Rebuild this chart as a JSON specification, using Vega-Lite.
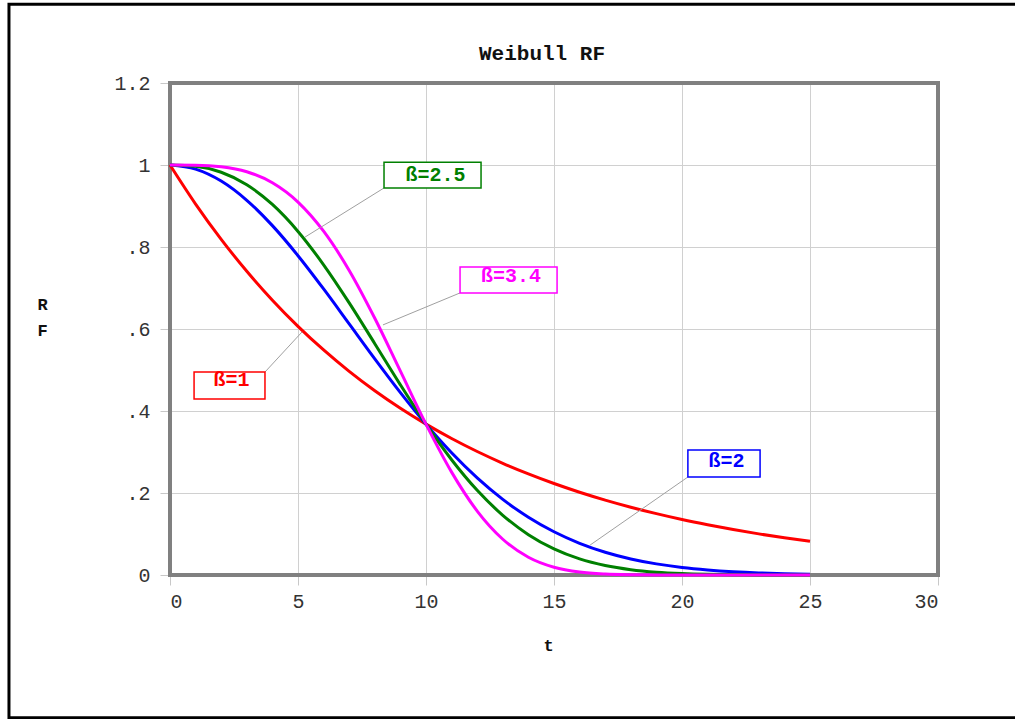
{
  "$schema": "https://vega.github.io/schema/vega-lite/v6.json",
  "autosize": {"type": "none"},
  "padding": {"left": 170, "top": 83, "right": 77, "bottom": 144},
  "width": 768,
  "height": 492,
  "background": "white",
  "config": {
    "view": {"stroke": null},
    "font": "Liberation Mono"
  },
  "title": {
    "text": "Weibull RF",
    "frame": "group",
    "anchor": "middle",
    "baseline": "alphabetic",
    "offset": 0,
    "dy": 78,
    "dx": -12,
    "font": "Liberation Mono",
    "fontSize": 21,
    "fontWeight": "bold",
    "color": "#111"
  },
  "datasets": {
    "curves": [
      {"t":0,"R":1,"s":"ß=1"},{"t":1,"R":0.9048,"s":"ß=1"},{"t":2,"R":0.8187,"s":"ß=1"},{"t":3,"R":0.7408,"s":"ß=1"},{"t":4,"R":0.6703,"s":"ß=1"},{"t":5,"R":0.6065,"s":"ß=1"},{"t":6,"R":0.5488,"s":"ß=1"},{"t":7,"R":0.4966,"s":"ß=1"},{"t":8,"R":0.4493,"s":"ß=1"},{"t":9,"R":0.4066,"s":"ß=1"},{"t":10,"R":0.3679,"s":"ß=1"},{"t":11,"R":0.3329,"s":"ß=1"},{"t":12,"R":0.3012,"s":"ß=1"},{"t":13,"R":0.2725,"s":"ß=1"},{"t":14,"R":0.2466,"s":"ß=1"},{"t":15,"R":0.2231,"s":"ß=1"},{"t":16,"R":0.2019,"s":"ß=1"},{"t":17,"R":0.1827,"s":"ß=1"},{"t":18,"R":0.1653,"s":"ß=1"},{"t":19,"R":0.1496,"s":"ß=1"},{"t":20,"R":0.1353,"s":"ß=1"},{"t":21,"R":0.1225,"s":"ß=1"},{"t":22,"R":0.1108,"s":"ß=1"},{"t":23,"R":0.1003,"s":"ß=1"},{"t":24,"R":0.0907,"s":"ß=1"},{"t":25,"R":0.0821,"s":"ß=1"},
      {"t":0,"R":1,"s":"ß=2"},{"t":1,"R":0.99,"s":"ß=2"},{"t":2,"R":0.9608,"s":"ß=2"},{"t":3,"R":0.9139,"s":"ß=2"},{"t":4,"R":0.8521,"s":"ß=2"},{"t":5,"R":0.7788,"s":"ß=2"},{"t":6,"R":0.6977,"s":"ß=2"},{"t":7,"R":0.6126,"s":"ß=2"},{"t":8,"R":0.5273,"s":"ß=2"},{"t":9,"R":0.4449,"s":"ß=2"},{"t":10,"R":0.3679,"s":"ß=2"},{"t":11,"R":0.2982,"s":"ß=2"},{"t":12,"R":0.2369,"s":"ß=2"},{"t":13,"R":0.1845,"s":"ß=2"},{"t":14,"R":0.1409,"s":"ß=2"},{"t":15,"R":0.1054,"s":"ß=2"},{"t":16,"R":0.0773,"s":"ß=2"},{"t":17,"R":0.0556,"s":"ß=2"},{"t":18,"R":0.0392,"s":"ß=2"},{"t":19,"R":0.0271,"s":"ß=2"},{"t":20,"R":0.0183,"s":"ß=2"},{"t":21,"R":0.0122,"s":"ß=2"},{"t":22,"R":0.0079,"s":"ß=2"},{"t":23,"R":0.005,"s":"ß=2"},{"t":24,"R":0.0032,"s":"ß=2"},{"t":25,"R":0.0019,"s":"ß=2"},
      {"t":0,"R":1,"s":"ß=2.5"},{"t":1,"R":0.9968,"s":"ß=2.5"},{"t":2,"R":0.9823,"s":"ß=2.5"},{"t":3,"R":0.9519,"s":"ß=2.5"},{"t":4,"R":0.9037,"s":"ß=2.5"},{"t":5,"R":0.838,"s":"ß=2.5"},{"t":6,"R":0.7566,"s":"ß=2.5"},{"t":7,"R":0.6637,"s":"ß=2.5"},{"t":8,"R":0.5642,"s":"ß=2.5"},{"t":9,"R":0.4638,"s":"ß=2.5"},{"t":10,"R":0.3679,"s":"ß=2.5"},{"t":11,"R":0.2811,"s":"ß=2.5"},{"t":12,"R":0.2065,"s":"ß=2.5"},{"t":13,"R":0.1456,"s":"ß=2.5"},{"t":14,"R":0.0984,"s":"ß=2.5"},{"t":15,"R":0.0636,"s":"ß=2.5"},{"t":16,"R":0.0392,"s":"ß=2.5"},{"t":17,"R":0.0231,"s":"ß=2.5"},{"t":18,"R":0.013,"s":"ß=2.5"},{"t":19,"R":0.0069,"s":"ß=2.5"},{"t":20,"R":0.0035,"s":"ß=2.5"},{"t":21,"R":0.0017,"s":"ß=2.5"},{"t":22,"R":0.0008,"s":"ß=2.5"},{"t":23,"R":0.0003,"s":"ß=2.5"},{"t":24,"R":0.0001,"s":"ß=2.5"},{"t":25,"R":0.0001,"s":"ß=2.5"},
      {"t":0,"R":1,"s":"ß=3.4"},{"t":1,"R":0.9996,"s":"ß=3.4"},{"t":2,"R":0.9958,"s":"ß=3.4"},{"t":3,"R":0.9835,"s":"ß=3.4"},{"t":4,"R":0.9566,"s":"ß=3.4"},{"t":5,"R":0.9096,"s":"ß=3.4"},{"t":6,"R":0.8385,"s":"ß=3.4"},{"t":7,"R":0.7428,"s":"ß=3.4"},{"t":8,"R":0.6261,"s":"ß=3.4"},{"t":9,"R":0.4971,"s":"ß=3.4"},{"t":10,"R":0.3679,"s":"ß=3.4"},{"t":11,"R":0.2509,"s":"ß=3.4"},{"t":12,"R":0.1559,"s":"ß=3.4"},{"t":13,"R":0.0872,"s":"ß=3.4"},{"t":14,"R":0.0433,"s":"ß=3.4"},{"t":15,"R":0.0189,"s":"ß=3.4"},{"t":16,"R":0.0071,"s":"ß=3.4"},{"t":17,"R":0.0023,"s":"ß=3.4"},{"t":18,"R":0.0006,"s":"ß=3.4"},{"t":19,"R":0.0001,"s":"ß=3.4"},{"t":20,"R":0,"s":"ß=3.4"},{"t":21,"R":0,"s":"ß=3.4"},{"t":22,"R":0,"s":"ß=3.4"},{"t":23,"R":0,"s":"ß=3.4"},{"t":24,"R":0,"s":"ß=3.4"},{"t":25,"R":0,"s":"ß=3.4"}
    ],
    "notes": [
      {"s":"ß=1","bx1":0.94,"bx2":3.71,"by1":0.429,"by2":0.495,"tx":2.4,"ty":0.461,"lx1":3.71,"ly1":0.495,"lx2":5.16,"ly2":0.593},
      {"s":"ß=2","bx1":20.23,"bx2":23.05,"by1":0.239,"by2":0.305,"tx":21.74,"ty":0.263,"lx1":20.23,"ly1":0.239,"lx2":16.41,"ly2":0.073},
      {"s":"ß=2.5","bx1":8.36,"bx2":12.15,"by1":0.944,"by2":1.007,"tx":10.37,"ty":0.961,"lx1":8.36,"ly1":0.944,"lx2":5.27,"ly2":0.824},
      {"s":"ß=3.4","bx1":11.33,"bx2":15.12,"by1":0.688,"by2":0.751,"tx":13.32,"ty":0.715,"lx1":11.33,"ly1":0.688,"lx2":8.32,"ly2":0.61}
    ]
  },
  "layer": [
    {
      "data": {"values": [{}]},
      "mark": {"type": "rect", "fill": null, "fillOpacity": 0, "stroke": "#000000", "strokeWidth": 3},
      "encoding": {
        "x": {"datum": -6.29, "type": "quantitative", "scale": {"domain": [0, 30], "nice": false, "zero": false},
          "axis": {"values": [0,5,10,15,20,25,30], "title": "t", "titleFont": "Liberation Mono", "titleFontSize": 17, "titleFontWeight": "bold", "titleColor": "#111", "titleX": 378, "titleY": 75, "titleBaseline": "alphabetic",
            "labelFont": "Liberation Mono", "labelFontSize": 20, "labelColor": "#333", "labelPadding": 6, "tickSize": 10, "tickColor": "#c8c8c8", "domain": false, "grid": true, "gridColor": "#d0d0d0", "gridWidth": 1}},
        "x2": {"datum": 33.5},
        "y": {"datum": 1.392, "type": "quantitative", "scale": {"domain": [0, 1.2], "nice": false, "zero": false},
          "axis": {"values": [0,0.2,0.4,0.6,0.8,1,1.2], "title": ["R","F"], "titleAngle": 0, "titleAlign": "left", "titleX": -133, "titleY": 226, "titleBaseline": "alphabetic", "titleLineHeight": 26, "titleFont": "Liberation Mono", "titleFontSize": 17, "titleFontWeight": "bold", "titleColor": "#111",
            "labelExpr": "datum.value == 0 ? '0' : (datum.value < 1 ? '.' + round(datum.value*10) : '' + datum.value)",
            "labelFont": "Liberation Mono", "labelFontSize": 20, "labelColor": "#333", "labelPadding": 10, "tickSize": 10, "tickColor": "#c8c8c8", "domain": false, "grid": true, "gridColor": "#d0d0d0", "gridWidth": 1}},
        "y2": {"datum": -0.348}
      }
    },
    {
      "data": {"values": [{}]},
      "mark": {"type": "rect", "fill": null, "fillOpacity": 0, "stroke": "#808080", "strokeWidth": 4},
      "encoding": {
        "x": {"datum": 0, "type": "quantitative"},
        "x2": {"datum": 30},
        "y": {"datum": 0, "type": "quantitative"},
        "y2": {"datum": 1.2}
      }
    },
    {
      "data": {"name": "curves"},
      "mark": {"type": "line", "strokeWidth": 3, "interpolate": "monotone"},
      "encoding": {
        "x": {"field": "t", "type": "quantitative"},
        "y": {"field": "R", "type": "quantitative"},
        "color": {"field": "s", "type": "nominal", "scale": {"domain": ["ß=1","ß=2","ß=2.5","ß=3.4"], "range": ["#ff0000","#0000ff","#008000","#ff00ff"]}, "legend": null}
      }
    },
    {
      "data": {"name": "notes"},
      "mark": {"type": "rule", "color": "#a0a0a0", "strokeWidth": 1},
      "encoding": {
        "x": {"field": "lx1", "type": "quantitative"},
        "y": {"field": "ly1", "type": "quantitative"},
        "x2": {"field": "lx2"},
        "y2": {"field": "ly2"}
      }
    },
    {
      "data": {"name": "notes"},
      "mark": {"type": "rect", "fill": "white", "strokeWidth": 1.5},
      "encoding": {
        "x": {"field": "bx1", "type": "quantitative"},
        "x2": {"field": "bx2"},
        "y": {"field": "by1", "type": "quantitative"},
        "y2": {"field": "by2"},
        "stroke": {"field": "s", "type": "nominal", "scale": {"domain": ["ß=1","ß=2","ß=2.5","ß=3.4"], "range": ["#ff0000","#0000ff","#008000","#ff00ff"]}, "legend": null}
      }
    },
    {
      "data": {"name": "notes"},
      "mark": {"type": "text", "font": "Liberation Mono", "fontSize": 20, "fontWeight": "bold", "align": "center", "baseline": "alphabetic"},
      "encoding": {
        "x": {"field": "tx", "type": "quantitative"},
        "y": {"field": "ty", "type": "quantitative"},
        "text": {"field": "s"},
        "color": {"field": "s", "type": "nominal", "scale": {"domain": ["ß=1","ß=2","ß=2.5","ß=3.4"], "range": ["#ff0000","#0000ff","#008000","#ff00ff"]}, "legend": null}
      }
    }
  ]
}
